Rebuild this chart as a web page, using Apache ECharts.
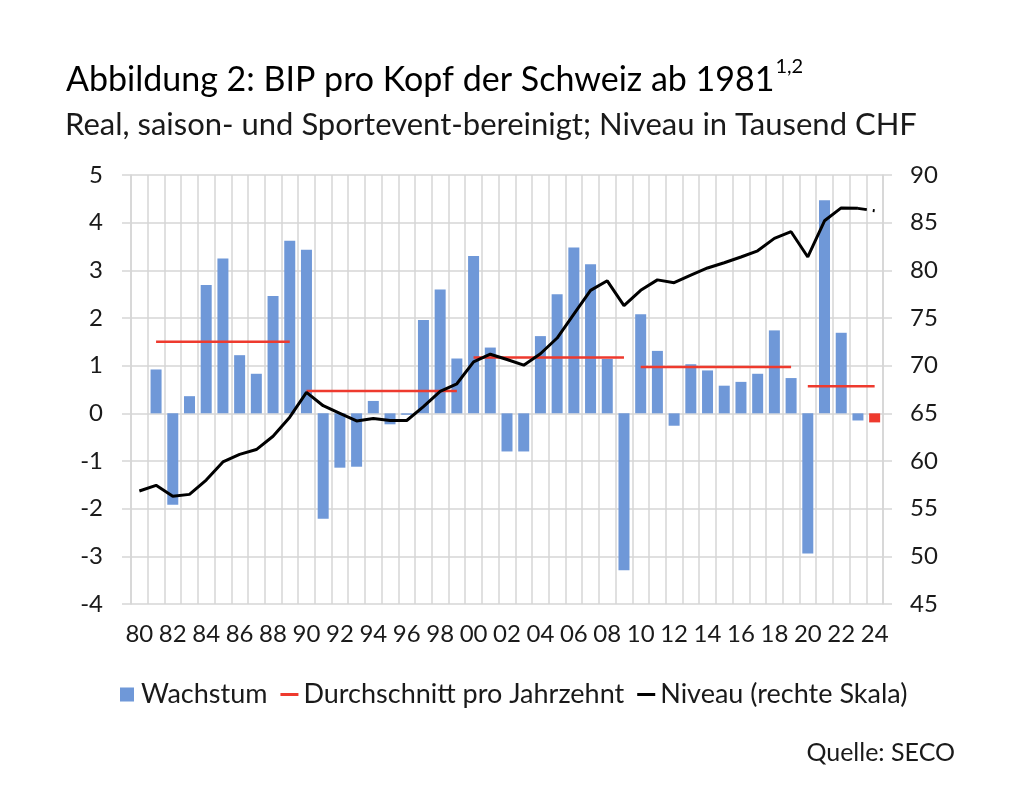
<!DOCTYPE html>
<html>
<head>
<meta charset="utf-8">
<script src="https://cdn.jsdelivr.net/npm/echarts@6/dist/echarts.min.js"></script>
<style>
html,body{margin:0;padding:0;background:#fff;}
#chart{width:1024px;height:790px;}
</style>
</head>
<body>
<div id="chart"></div>
<script>
// ---- Data ----
var years = ['1980','1981','1982','1983','1984','1985','1986','1987','1988','1989',
  '1990','1991','1992','1993','1994','1995','1996','1997','1998','1999',
  '2000','2001','2002','2003','2004','2005','2006','2007','2008','2009',
  '2010','2011','2012','2013','2014','2015','2016','2017','2018','2019',
  '2020','2021','2022','2023','2024'];
// Wachstum in % (1980 ohne Wert)
var wachstum = [null, 0.92, -1.92, 0.36, 2.69, 3.25, 1.22, 0.83, 2.46, 3.62,
  3.43, -2.21, -1.14, -1.12, 0.26, -0.23, -0.03, 1.96, 2.60, 1.15,
  3.30, 1.38, -0.80, -0.80, 1.62, 2.50, 3.48, 3.13, 1.14, -3.29,
  2.08, 1.31, -0.26, 1.03, 0.90, 0.58, 0.66, 0.83, 1.74, 0.74,
  -2.94, 4.47, 1.69, -0.15, -0.19];
var forecastYear = '2024';
// Niveau in Tausend CHF
var niveau = [56.85, 57.45, 56.3, 56.5, 58.0, 59.9, 60.7, 61.2, 62.6, 64.6,
  67.2, 65.8, 65.0, 64.2, 64.45, 64.25, 64.25, 65.7, 67.3, 68.1,
  70.4, 71.2, 70.65, 70.05, 71.25, 72.9, 75.4, 77.9, 78.9, 76.3,
  77.9, 79.0, 78.7, 79.5, 80.25, 80.8, 81.4, 82.05, 83.35, 84.05,
  81.4, 85.2, 86.55, 86.5, 86.25];
// Durchschnitt pro Jahrzehnt
var avgStart = ['1981','1990','2000','2010','2020'];
var avgEnd   = ['1989','1999','2009','2019','2024'];
var avgValue = [1.50, 0.47, 1.17, 0.97, 0.57];
var leftTicks = [-4, 5, 1];
var rightTicks = [45, 90, 5];

// ---- Build ----
var FONT = 'Lato';
var blue = '#6f98d8', red = '#ee3a2e', grid = '#d6d6d6', txt = '#1a1a1a';

var barData = wachstum.map(function (v, i) {
  if (years[i] === forecastYear) return { value: v, itemStyle: { color: red } };
  return v;
});
var forecastStart = years.indexOf(forecastYear) - 1;
var niveauSolid = niveau.map(function (v, i) { return i <= forecastStart ? v : null; });
var niveauForecast = niveau.map(function (v, i) { return i >= forecastStart ? v : null; });

var series = [
  { name: 'Wachstum', type: 'bar', data: barData, barWidth: 11,
    itemStyle: { color: blue }, yAxisIndex: 0, z: 2 }
];
avgValue.forEach(function (val, k) {
  var s = years.indexOf(avgStart[k]), e = years.indexOf(avgEnd[k]);
  series.push({
    name: 'Durchschnitt pro Jahrzehnt', type: 'line', yAxisIndex: 0, symbol: 'none',
    data: years.map(function (y, i) { return (i >= s && i <= e) ? val : null; }),
    lineStyle: { color: red, width: 2.5, cap: 'butt' }, itemStyle: { color: red },
    z: 3, silent: true
  });
});
series.push({ name: 'Niveau (rechte Skala)', type: 'line', yAxisIndex: 1, symbol: 'none',
  data: niveauSolid, lineStyle: { color: '#000', width: 3 }, itemStyle: { color: '#000' }, z: 4 });
series.push({ name: 'Niveau Prognose', type: 'line', yAxisIndex: 1, symbol: 'none',
  data: niveauForecast, lineStyle: { color: '#000', width: 3, type: [9, 6] }, itemStyle: { color: '#000' }, z: 4 });

// legend icons inside an 18x15 box (corner slivers fix the bounding box)
var box = 'M0,0L0.01,0L0,0.01Z M18,15L17.99,15L18,14.99Z ';
var iconSquare = 'path://' + box + 'M2,0.5L16,0.5L16,14.5L2,14.5Z';
var iconLine = 'path://' + box + 'M0,6L18,6L18,9L0,9Z';

var chart = echarts.init(document.getElementById('chart'), null, { renderer: 'canvas' });
chart.setOption({
  backgroundColor: '#fff',
  animation: false,
  title: [
    { text: '{t|Abbildung 2: BIP pro Kopf der Schweiz ab 1981}{s|1,2}', left: 61, top: 52,
      textStyle: { fontWeight: 'normal', rich: {
        t: { fontFamily: FONT, fontSize: 34, fontWeight: 'normal', color: '#000', verticalAlign: 'bottom', lineHeight: 40 },
        s: { fontFamily: FONT, fontSize: 20, fontWeight: 'normal', color: '#000', verticalAlign: 'top', padding: [0,0,14,1] }
      } } },
    { text: 'Real, saison- und Sportevent-bereinigt; Niveau in Tausend CHF', left: 60, top: 104,
      textStyle: { fontFamily: FONT, fontSize: 31, fontWeight: 'normal', color: '#1a1a1a' } },
    { text: 'Quelle: SECO', right: 64, top: 735,
      textStyle: { fontFamily: FONT, fontSize: 25, fontWeight: 'normal', color: '#1a1a1a' } }
  ],
  legend: {
    data: [
      { name: 'Wachstum', icon: iconSquare, itemStyle: { color: blue } },
      { name: 'Durchschnitt pro Jahrzehnt', icon: iconLine, itemStyle: { color: red } },
      { name: 'Niveau (rechte Skala)', icon: iconLine, itemStyle: { color: '#000' } }
    ],
    left: 113, top: 676, itemGap: 13, itemWidth: 18, itemHeight: 15,
    textStyle: { fontFamily: FONT, fontSize: 27, color: txt },
    selectedMode: false
  },
  grid: { left: 131, right: 141, top: 175, bottom: 186, containLabel: false },
  xAxis: {
    type: 'category', data: years, boundaryGap: true,
    axisLine: { show: false }, axisTick: { show: false },
    axisLabel: { interval: 1, margin: 18, fontFamily: FONT, fontSize: 24, color: txt,
      formatter: function (v) { return v.slice(2); } },
    splitLine: { show: true, interval: 0, lineStyle: { color: grid, width: 1.5 } }
  },
  yAxis: [
    { type: 'value', min: leftTicks[0], max: leftTicks[1], interval: leftTicks[2], position: 'left',
      axisLine: { show: true, lineStyle: { color: grid, width: 1.5 } },
      axisTick: { show: true, length: 9, lineStyle: { color: grid, width: 1.5 } },
      axisLabel: { margin: 28, fontFamily: FONT, fontSize: 24, color: txt },
      splitLine: { show: true, lineStyle: { color: grid, width: 1.5 } } },
    { type: 'value', min: rightTicks[0], max: rightTicks[1], interval: rightTicks[2], position: 'right',
      axisLine: { show: true, lineStyle: { color: grid, width: 1.5 } },
      axisTick: { show: true, length: 9, lineStyle: { color: grid, width: 1.5 } },
      axisLabel: { margin: 27, fontFamily: FONT, fontSize: 24, color: txt },
      splitLine: { show: false } }
  ],
  series: series
});
</script>
</body>
</html>
